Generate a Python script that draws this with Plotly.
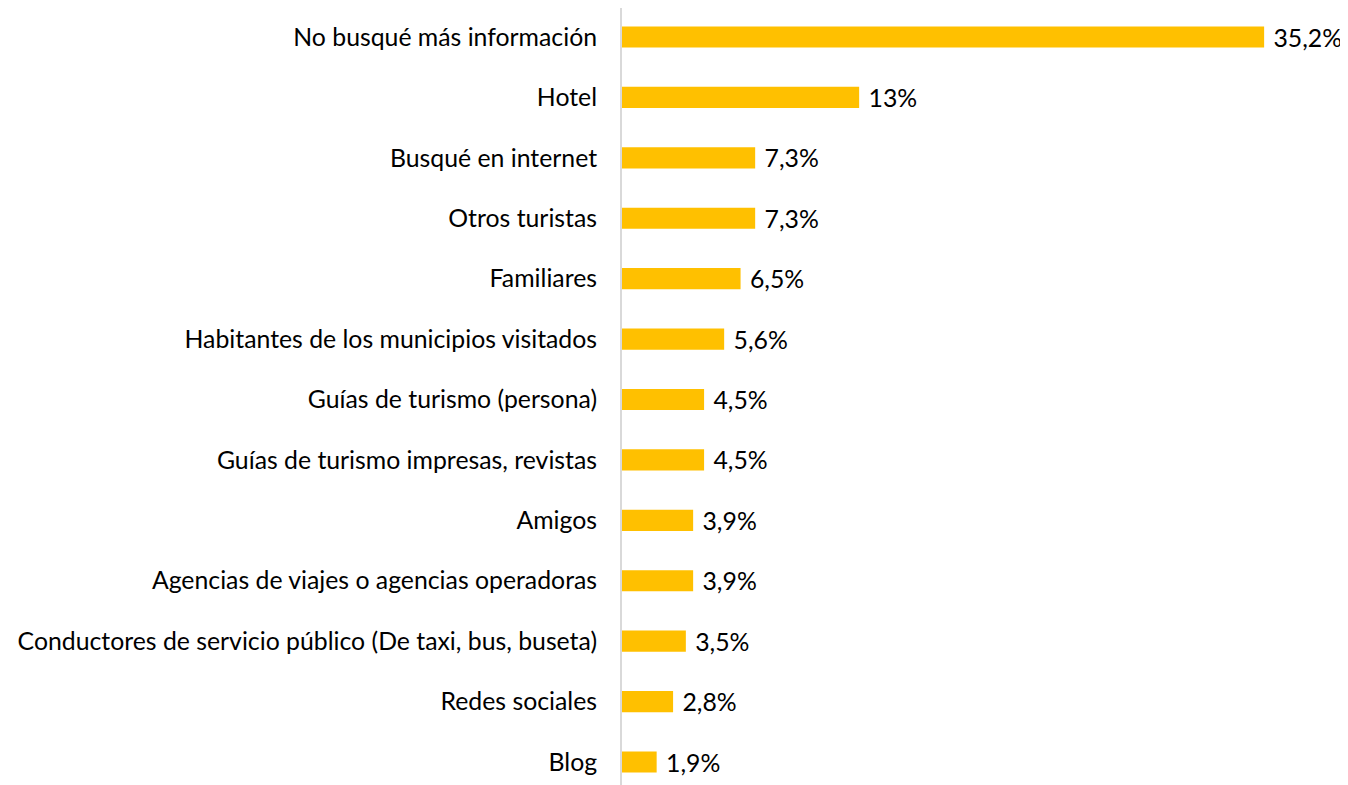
import plotly.graph_objects as go

categories = [
    "No busqué más información",
    "Hotel",
    "Busqué en internet",
    "Otros turistas",
    "Familiares",
    "Habitantes de los municipios visitados",
    "Guías de turismo (persona)",
    "Guías de turismo impresas, revistas",
    "Amigos",
    "Agencias de viajes o agencias operadoras",
    "Conductores de servicio público (De taxi, bus, buseta)",
    "Redes sociales",
    "Blog",
]
values = [35.2, 13, 7.3, 7.3, 6.5, 5.6, 4.5, 4.5, 3.9, 3.9, 3.5, 2.8, 1.9]
value_labels = ["\u00a0" + f"{v:g}".replace(".", ",") + "%" for v in values]

FONT = "Lato"
FS = 24.8

fig = go.Figure(
    go.Bar(
        x=values,
        y=categories,
        orientation="h",
        marker=dict(color="#FFC000", line=dict(width=0)),
        text=value_labels,
        textposition="outside",
        constraintext="none",
        textfont=dict(family=FONT, size=FS, color="#000000"),
        cliponaxis=False,
        width=0.35,
    )
)

fig.update_layout(
    width=1348,
    height=785,
    margin=dict(l=614, r=20, t=0, b=0),
    paper_bgcolor="white",
    plot_bgcolor="white",
    showlegend=False,
    font=dict(family=FONT, size=FS, color="#000000"),
    xaxis=dict(
        range=[0, 39.14],
        showgrid=False,
        zeroline=False,
        showticklabels=False,
        showline=False,
        fixedrange=True,
    ),
    yaxis=dict(
        type="category",
        categoryorder="array",
        categoryarray=categories,
        range=[12.513, -0.48],
        showgrid=False,
        zeroline=False,
        showline=True,
        linecolor="#d9d9d9",
        linewidth=2,
        ticks="outside",
        ticklen=18,
        tickcolor="rgba(0,0,0,0)",
        tickfont=dict(family=FONT, size=FS, color="#000000"),
    ),
)

fig.write_html("out.html")
